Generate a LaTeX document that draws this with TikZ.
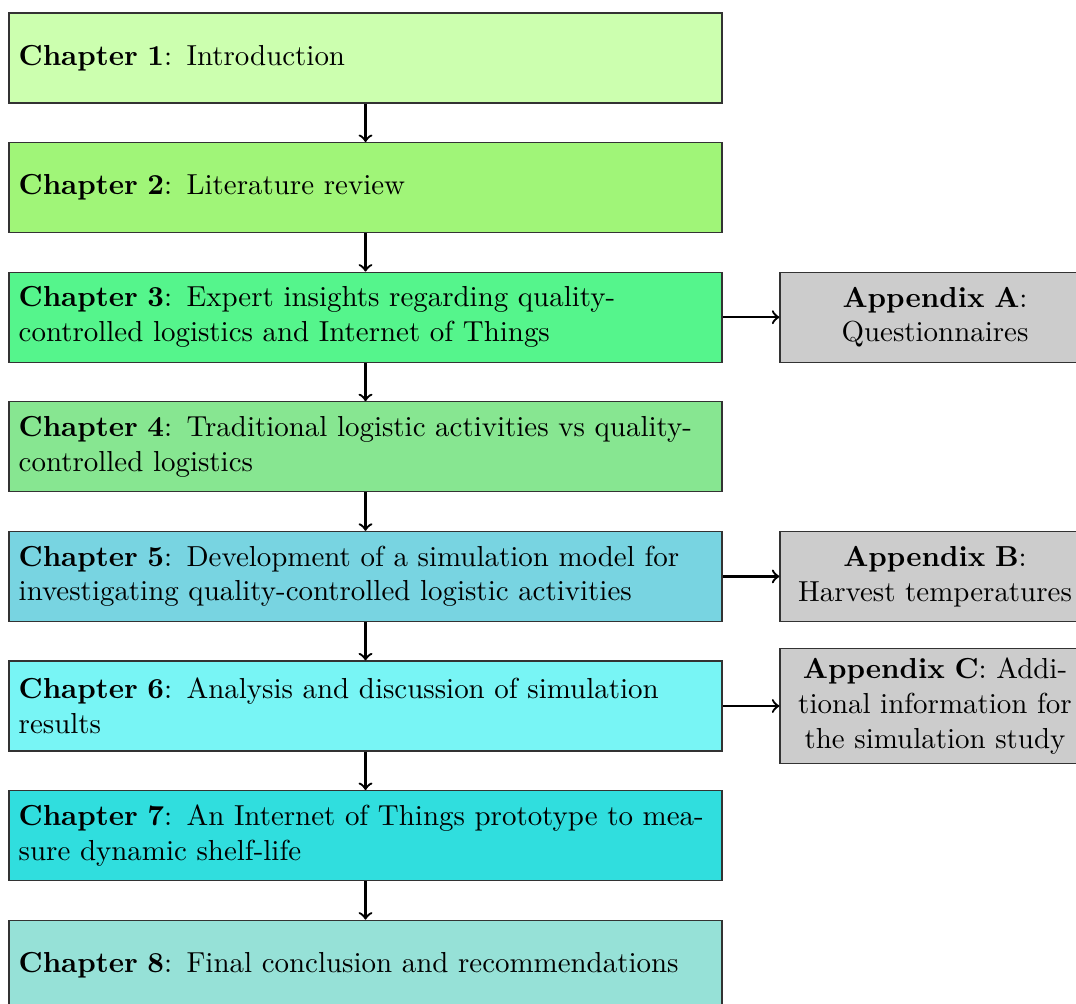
\documentclass[tikz,border=0pt]{standalone}
\usetikzlibrary{positioning}
\definecolor{chA}{RGB}{204,255,175}
\definecolor{chB}{RGB}{160,245,120}
\definecolor{chC}{RGB}{85,245,140}
\definecolor{chD}{RGB}{135,230,145}
\definecolor{chE}{RGB}{120,212,225}
\definecolor{chF}{RGB}{120,245,245}
\definecolor{chG}{RGB}{48,222,222}
\definecolor{chH}{RGB}{150,225,215}
\definecolor{apx}{RGB}{204,204,204}
\tikzset{
  chapbox/.style={draw=black!80, line width=0.4pt, rectangle, text width=239.7pt,
    minimum height=31.1pt, inner sep=0.3333em, align=left},
  apxbox/.style={draw=black!80, line width=0.4pt, rectangle, fill=apx, text width=100.5pt,
    minimum height=31.1pt, inner sep=0.3333em, align=center},
  flow/.style={->, thick}
}
\begin{document}
\begin{tikzpicture}[x=0.3456pt, y=-0.3456pt]
  \clip (0,0) rectangle (1076,1003);
  \useasboundingbox (0,0) rectangle (1076,1003);
  % main chain of chapters
  \node[chapbox, fill=chA] (c1) at (365.5,58) {\textbf{Chapter 1}: Introduction};
  \node[chapbox, fill=chB] (c2) at (365.5,187.6) {\textbf{Chapter 2}: Literature review};
  \node[chapbox, fill=chC] (c3) at (365.5,317.2) {\textbf{Chapter 3}: Expert insights regarding quality-controlled logistics and Internet of Things};
  \node[chapbox, fill=chD] (c4) at (365.5,446.8) {\textbf{Chapter 4}: Traditional logistic activities vs quality-controlled logistics};
  \node[chapbox, fill=chE] (c5) at (365.5,576.4) {\textbf{Chapter 5}: Development of a simulation model for investigating quality-controlled logistic activities};
  \node[chapbox, fill=chF] (c6) at (365.5,706) {\textbf{Chapter 6}: Analysis and discussion of simulation results};
  \node[chapbox, fill=chG] (c7) at (365.5,835.6) {\textbf{Chapter 7}: An Internet of Things prototype to measure dynamic shelf-life};
  \node[chapbox, fill=chH] (c8) at (365.5,965.2) {\textbf{Chapter 8}: Final conclusion and recommendations};
  % appendices
  \node[apxbox] (aA) at (935,317.2) {\textbf{Appendix A}: Questionnaires};
  \node[apxbox] (aB) at (935,576.4) {\textbf{Appendix B}: Harvest temperatures};
  \node[apxbox] (aC) at (935,706) {\textbf{Appendix C}: Additional information for the simulation study};
  % connectors
  \foreach \a/\b in {c1/c2,c2/c3,c3/c4,c4/c5,c5/c6,c6/c7,c7/c8}
    \draw[flow] (\a) -- (\b);
  \draw[flow] (c3) -- (aA);
  \draw[flow] (c5) -- (aB);
  \draw[flow] (c6) -- (aC);
\end{tikzpicture}
\end{document}
